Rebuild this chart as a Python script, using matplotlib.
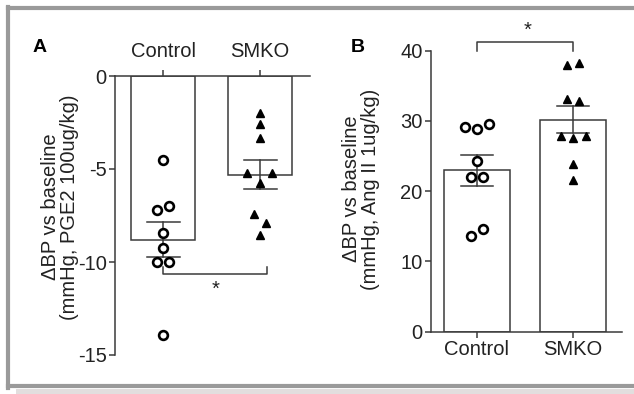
import matplotlib
matplotlib.use("Agg")
import matplotlib.pyplot as plt
from matplotlib.lines import Line2D
from matplotlib.patches import Rectangle
import numpy as np

plt.rcParams['font.family'] = ['Liberation Sans', 'DejaVu Sans']

categories = ["Control", "SMKO"]

# Panel A: PGE2 response
a_control = [-4.5, -7.2, -7.0, -8.45, -9.27, -10.0, -10.0, -13.9]
a_control_dx = [0.0, -0.06, 0.06, 0.0, 0.0, -0.06, 0.06, 0.0]
a_smko = [-1.97, -2.6, -3.35, -5.2, -5.2, -5.74, -7.4, -7.9, -8.55]
a_smko_dx = [0.0, 0.0, 0.0, -0.13, 0.12, 0.0, -0.06, 0.06, 0.0]
a_means = [-8.8, -5.3]
a_sem = [0.95, 0.78]

# Panel B: Ang II response
b_control = [29.2, 28.8, 29.5, 24.3, 22.05, 22.05, 13.6, 14.6]
b_control_dx = [-0.12, 0.0, 0.12, 0.0, -0.06, 0.06, -0.06, 0.06]
b_smko = [37.9, 38.2, 33.1, 32.9, 27.8, 27.6, 27.8, 23.85, 21.6]
b_smko_dx = [-0.06, 0.06, -0.06, 0.06, -0.13, 0.0, 0.13, 0.0, 0.0]
b_means = [23.0, 30.2]
b_sem = [2.2, 1.95]

W, H = 634, 394
fig = plt.figure(figsize=(W / 100, H / 100), dpi=100)
fig.patch.set_facecolor('white')

def fx(px):
    return px / W

def fy(py):
    return 1 - py / H

edge = '#3a3a3a'
txt = '#222222'
fs = 14.5

def draw_panel(ax, ctrl, cdx, smko, sdx, means, sem, bw):
    x = np.arange(len(categories))
    ax.bar(x, means, width=bw, facecolor='white', edgecolor=edge, linewidth=1.1, zorder=1)
    ax.plot(x[0] + np.array(cdx), ctrl, 'o', mfc='white', mec='black', ms=6.3, mew=1.9,
            linestyle='none', zorder=3, clip_on=False)
    ax.plot(x[1] + np.array(sdx), smko, '^', mfc='black', mec='black', ms=5.8,
            linestyle='none', zorder=3, clip_on=False)
    for xi, m, s in zip(x, means, sem):
        ax.plot([xi, xi], [m - s, m + s], color=edge, lw=1.1, zorder=2)
        ax.plot([xi - 0.17, xi + 0.17], [m + s, m + s], color=edge, lw=1.1, zorder=2)
        ax.plot([xi - 0.17, xi + 0.17], [m - s, m - s], color=edge, lw=1.1, zorder=2)
    ax.set_xticks(x)
    ax.set_xticklabels(categories, fontsize=fs)
    ax.spines['right'].set_visible(False)
    for sp in ax.spines.values():
        sp.set_color(edge)
        sp.set_linewidth(1.1)
    ax.tick_params(colors=edge, width=1.1, length=4, labelsize=fs, labelcolor=txt)
    ax.tick_params(axis='y', pad=2)

# Panel A
axA = fig.add_axes([fx(115), fy(355), fx(310) - fx(115), fy(76) - fy(355)])
draw_panel(axA, a_control, a_control_dx, a_smko, a_smko_dx, a_means, a_sem, 0.66)
axA.set_ylim(-15, 0)
axA.set_xlim(-0.495, 1.515)
axA.set_yticks([0, -5, -10, -15])
axA.set_yticklabels(['0', '-5', '-10', '-15'])
axA.spines['bottom'].set_visible(False)
axA.xaxis.set_ticks_position('top')
axA.tick_params(axis='x', pad=7)
# significance bracket
axA.plot([0, 0, 1.07, 1.07], [-10.27, -10.65, -10.65, -10.27], color=edge, lw=1.1, clip_on=False)
axA.text(0.54, -10.95, '*', ha='center', va='top', fontsize=fs, color=txt)

# Panel B
axB = fig.add_axes([fx(431), fy(331.7), fx(622) - fx(431), fy(50.7) - fy(331.7)])
draw_panel(axB, b_control, b_control_dx, b_smko, b_smko_dx, b_means, b_sem, 0.68)
axB.set_ylim(0, 40)
axB.set_xlim(-0.479, 1.51)
axB.set_yticks([0, 10, 20, 30, 40])
axB.spines['top'].set_visible(False)
axB.tick_params(axis='x', pad=2)
axB.plot([0, 0, 1, 1], [39.9, 41.2, 41.2, 39.9], color=edge, lw=1.1, clip_on=False)
axB.text(0.53, 41.5, '*', ha='center', va='bottom', fontsize=fs, color=txt)

# Y labels
fig.text(fx(60), fy(207), 'ΔBP vs baseline\n(mmHg, PGE2 100ug/kg)', rotation=90,
         ha='center', va='center', fontsize=fs, color=txt, linespacing=1.0)
fig.text(fx(361), fy(189), 'ΔBP vs baseline\n(mmHg, Ang II 1ug/kg)', rotation=90,
         ha='center', va='center', fontsize=fs, color=txt, linespacing=1.0)

# Panel letters
fig.text(fx(33), fy(48), 'A', fontsize=14, fontweight='bold', ha='left', va='center')
fig.text(fx(351), fy(48), 'B', fontsize=14, fontweight='bold', ha='left', va='center')

# Frame
fig.add_artist(Rectangle((fx(16), 0), 1 - fx(16), fy(389), transform=fig.transFigure,
                         facecolor='#e2dede', edgecolor='none', zorder=0))
frame_c = '#9a9a9a'
lw_frame = 3.0
fig.add_artist(Line2D([fx(8), 1], [fy(8), fy(8)], color=frame_c, lw=lw_frame, transform=fig.transFigure))
fig.add_artist(Line2D([fx(8), 1], [fy(386), fy(386)], color=frame_c, lw=lw_frame, transform=fig.transFigure))
fig.add_artist(Line2D([fx(8), fx(8)], [fy(6.5), fy(387.5)], color=frame_c, lw=lw_frame, transform=fig.transFigure))

fig.savefig('out.png', dpi=100)
